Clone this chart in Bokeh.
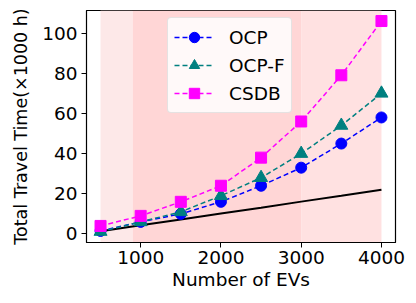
from bokeh.plotting import figure
from bokeh.models import (Range1d, FixedTicker, BoxAnnotation, Legend, LegendItem)
from bokeh.embed import file_html
from bokeh.resources import INLINE

# ---- data ----
num_evs = [500, 1000, 1500, 2000, 2500, 3000, 3500, 4000]
ocp = [1.5, 6, 10, 16, 24, 33, 45, 58]
ocp_f = [1.2, 6, 11, 19, 28, 40, 54, 70]
csdb = [4, 9, 16, 24, 38, 56, 79, 106]
baseline = [1.3, 4.3, 7.2, 10.2, 13.1, 16.1, 19.0, 22.0]

band_edges = [500, 900, 3000, 4000]
band_colors = ["#fde8e8", "#ffd6d6", "#ffe1e1"]

x_ticks = [1000, 2000, 3000, 4000]
y_ticks = [0, 20, 40, 60, 80, 100]

FONT = "DejaVu Sans"
FS = "18.5px"

p = figure(width=408, height=295, output_backend="svg", toolbar_location=None,
           x_range=Range1d(325, 4175), y_range=Range1d(-4.25, 111.25),
           min_border_left=86, min_border_right=13, min_border_top=10, min_border_bottom=53)

p.background_fill_color = "white"
p.border_fill_color = "white"
p.outline_line_color = "black"
p.outline_line_width = 1.2
p.xgrid.visible = False
p.ygrid.visible = False

for i, c in enumerate(band_colors):
    p.add_layout(BoxAnnotation(left=band_edges[i], right=band_edges[i + 1],
                               fill_color=c, fill_alpha=1.0, line_alpha=0, level="underlay"))

r_base = p.line(num_evs, baseline, line_color="black", line_width=2)

dash = "5 3"
l1 = p.line(num_evs, ocp, line_color="#0000ff", line_width=1.5, line_dash=dash)
s1 = p.scatter(num_evs, ocp, marker="circle", size=11, fill_color="#0000ff", line_color="#0000ff")
l2 = p.line(num_evs, ocp_f, line_color="#008080", line_width=1.5, line_dash=dash)
s2 = p.scatter(num_evs, ocp_f, marker="triangle", size=13, fill_color="#008080", line_color="#008080")
l3 = p.line(num_evs, csdb, line_color="#ff00ff", line_width=1.5, line_dash=dash)
s3 = p.scatter(num_evs, csdb, marker="square", size=11, fill_color="#ff00ff", line_color="#ff00ff")

legend = Legend(items=[
    LegendItem(label="OCP", renderers=[l1, s1]),
    LegendItem(label="OCP-F", renderers=[l2, s2]),
    LegendItem(label="CSDB", renderers=[l3, s3]),
], location=(81, 129))
legend.label_text_font = FONT
legend.label_text_font_size = FS
legend.label_text_color = "black"
legend.glyph_width = 40
legend.glyph_height = 26
legend.label_height = 26
legend.label_standoff = 15
legend.spacing = 2
legend.padding = 6
legend.margin = 0
legend.border_line_color = "#cccccc"
legend.border_line_width = 1
legend.border_radius = 4
legend.background_fill_color = "white"
legend.background_fill_alpha = 0.85
p.add_layout(legend, "center")

for ax in (p.xaxis[0], p.yaxis[0]):
    ax.major_label_text_font = FONT
    ax.major_label_text_font_size = FS
    ax.major_label_text_color = "black"
    ax.axis_label_text_font = FONT
    ax.axis_label_text_font_size = FS
    ax.axis_label_text_font_style = "normal"
    ax.axis_label_text_color = "black"
    ax.major_tick_out = 5
    ax.major_tick_in = 0
    ax.minor_tick_out = 0
    ax.minor_tick_in = 0
    ax.axis_line_color = "black"
    ax.major_tick_line_color = "black"

p.yaxis.axis_label_text_font_size = "17.5px"
p.xaxis.ticker = FixedTicker(ticks=x_ticks)
p.yaxis.ticker = FixedTicker(ticks=y_ticks)
p.xaxis.axis_label = "Number of EVs"
p.yaxis.axis_label = "Total Travel Time(\u00d71000 h)"
p.xaxis.major_label_standoff = 3
p.xaxis.axis_label_standoff = 2
p.yaxis.major_label_standoff = 4
p.yaxis.axis_label_standoff = 8

open("out.html", "w").write(file_html(p, INLINE))
